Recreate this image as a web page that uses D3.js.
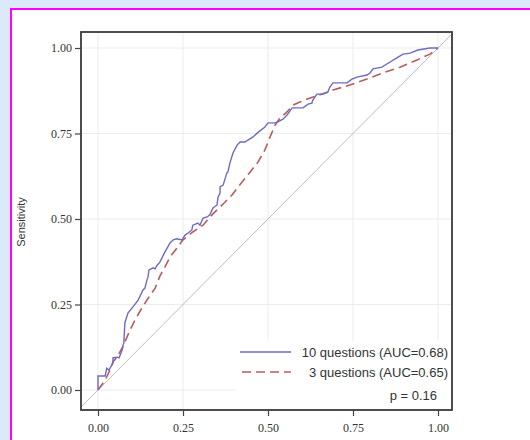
<!DOCTYPE html>
<html>
  <head>
    <meta charset="utf-8">
    <title>ROC curves</title>
    <script src="https://cdn.jsdelivr.net/npm/d3@7"></script>
    <style>
      body { margin: 0; background: #dbe9fb; }
    </style>
  </head>
  <body>
  </body>
  <script>

    // ROC points as [1 - specificity, sensitivity]
    var roc10 = [[0,0],[0,0.041],[0.021,0.041],[0.026,0.064],[0.032,0.058],[0.044,0.079],[0.044,0.094],
      [0.056,0.096],[0.062,0.094],[0.071,0.117],[0.074,0.132],[0.076,0.137],[0.079,0.196],[0.088,0.225],
      [0.103,0.243],[0.118,0.263],[0.132,0.292],[0.138,0.298],[0.144,0.322],[0.147,0.330],[0.150,0.351],
      [0.162,0.357],[0.168,0.354],[0.174,0.365],[0.182,0.374],[0.197,0.404],[0.212,0.430],[0.221,0.439],
      [0.232,0.442],[0.247,0.439],[0.256,0.453],[0.265,0.459],[0.276,0.468],[0.279,0.482],[0.294,0.488],
      [0.300,0.482],[0.309,0.503],[0.321,0.506],[0.329,0.512],[0.338,0.532],[0.350,0.541],[0.353,0.564],
      [0.359,0.576],[0.359,0.594],[0.368,0.599],[0.379,0.635],[0.382,0.637],[0.388,0.664],[0.397,0.693],
      [0.409,0.716],[0.418,0.725],[0.432,0.725],[0.456,0.740],[0.468,0.751],[0.491,0.769],[0.500,0.781],
      [0.521,0.781],[0.529,0.784],[0.544,0.792],[0.556,0.804],[0.571,0.825],[0.603,0.825],[0.618,0.836],
      [0.629,0.839],[0.632,0.848],[0.644,0.865],[0.662,0.865],[0.676,0.871],[0.682,0.886],[0.691,0.898],
      [0.732,0.898],[0.747,0.909],[0.762,0.915],[0.791,0.921],[0.800,0.927],[0.809,0.939],[0.835,0.944],
      [0.859,0.959],[0.879,0.971],[0.897,0.982],[0.918,0.985],[0.941,0.994],[0.976,1],[1,1]];

    var roc3 = [[0,0],[0.021,0.029],[0.035,0.058],[0.044,0.082],[0.056,0.096],[0.071,0.123],[0.079,0.140],
      [0.094,0.175],[0.109,0.205],[0.124,0.231],[0.144,0.263],[0.168,0.298],[0.182,0.333],[0.197,0.360],
      [0.212,0.389],[0.232,0.415],[0.250,0.439],[0.279,0.462],[0.309,0.482],[0.338,0.515],[0.368,0.544],
      [0.394,0.570],[0.426,0.611],[0.447,0.637],[0.471,0.667],[0.491,0.702],[0.506,0.740],[0.521,0.775],
      [0.535,0.795],[0.556,0.813],[0.574,0.833],[0.594,0.842],[0.624,0.854],[0.653,0.863],[0.691,0.877],
      [0.741,0.892],[0.791,0.909],[0.838,0.927],[0.888,0.944],[0.938,0.965],[0.976,0.982],[1,1]];

    var tickValues = [0, 0.25, 0.5, 0.75, 1];
    var legendLabels = ["10 questions (AUC=0.68)", "3 questions (AUC=0.65)"];
    var pLabel = "p = 0.16";

    var width = 530, height = 440;

    var svg = d3.select("body").append("svg")
                .attr("width", width)
                .attr("height", height);

    // white panel with magenta border
    svg.append("rect")
       .attr("x", 11).attr("y", 9)
       .attr("width", 560).attr("height", 480)
       .style("fill", "#fff")
       .style("stroke", "#ff00ff")
       .style("stroke-width", 2);

    // frame 81..452 x 32..410 ; 0 -> 98, 1 -> 438
    var x = d3.scaleLinear().domain([0, 1]).range([98, 438]);
    var y = d3.scaleLinear().domain([0, 1]).range([390, 48]);
    var fLeft = 81, fRight = 452, fTop = 32, fBottom = 410;

    svg.append("clipPath").attr("id", "clip")
       .append("rect")
       .attr("x", fLeft).attr("y", fTop)
       .attr("width", fRight - fLeft).attr("height", fBottom - fTop);

    // grid
    var grid = svg.append("g").style("stroke", "#ececec").style("stroke-width", 1);
    grid.selectAll(".gx").data(tickValues).enter().append("line")
        .attr("x1", function (d) { return x(d); }).attr("x2", function (d) { return x(d); })
        .attr("y1", fTop).attr("y2", fBottom);
    grid.selectAll(".gy").data(tickValues).enter().append("line")
        .attr("y1", function (d) { return y(d); }).attr("y2", function (d) { return y(d); })
        .attr("x1", fLeft).attr("x2", fRight);

    var plot = svg.append("g").attr("clip-path", "url(#clip)");

    // reference diagonal
    plot.append("line")
        .attr("x1", x(-0.1)).attr("y1", y(-0.1))
        .attr("x2", x(1.1)).attr("y2", y(1.1))
        .style("stroke", "#bcbcbc")
        .style("stroke-width", 1);

    // legend background covers grid
    svg.append("rect")
       .attr("x", 236).attr("y", 341)
       .attr("width", fRight - 236).attr("height", fBottom - 341)
       .style("fill", "#fff");

    var line = d3.line()
                 .x(function (d) { return x(d[0]); })
                 .y(function (d) { return y(d[1]); });

    plot.append("path")
        .datum(roc3)
        .attr("d", line)
        .style("fill", "none")
        .style("stroke", "#b85c5c")
        .style("stroke-width", 1.6)
        .style("stroke-dasharray", "9,5");

    plot.append("path")
        .datum(roc10)
        .attr("d", line)
        .style("fill", "none")
        .style("stroke", "#6b6bc4")
        .style("stroke-width", 1.4);

    // frame
    svg.append("rect")
       .attr("x", fLeft).attr("y", fTop)
       .attr("width", fRight - fLeft).attr("height", fBottom - fTop)
       .style("fill", "none")
       .style("stroke", "#3a3a3a")
       .style("stroke-width", 1.8);

    // axes
    var xAxis = d3.axisBottom(x).tickValues(tickValues).tickFormat(d3.format(".2f")).tickSize(6).tickSizeOuter(0);
    var yAxis = d3.axisLeft(y).tickValues(tickValues).tickFormat(d3.format(".2f")).tickSize(6).tickSizeOuter(0);

    var gx = svg.append("g").attr("transform", "translate(0," + fBottom + ")").call(xAxis);
    var gy = svg.append("g").attr("transform", "translate(" + fLeft + ",0)").call(yAxis);

    [gx, gy].forEach(function (g) {
      g.select(".domain").remove();
      g.selectAll(".tick line").style("stroke", "#444").style("stroke-width", 1.2);
      g.selectAll(".tick text")
       .style("font-family", "'Liberation Serif', 'DejaVu Serif', serif")
       .style("font-size", "12px")
       .style("fill", "#333");
    });
    gx.selectAll(".tick text").attr("dy", "1.1em");

    svg.append("text")
       .attr("transform", "translate(25,222) rotate(-90)")
       .attr("text-anchor", "middle")
       .style("font-family", "'Liberation Sans', Arial, sans-serif")
       .style("font-size", "11px")
       .style("fill", "#333")
       .text("Sensitivity");

    // legend
    var leg = svg.append("g");
    leg.append("line")
       .attr("x1", 240).attr("x2", 291).attr("y1", 352).attr("y2", 352)
       .style("stroke", "#6b6bc4").style("stroke-width", 1.4);
    leg.append("line")
       .attr("x1", 242).attr("x2", 291).attr("y1", 372).attr("y2", 372)
       .style("stroke", "#b85c5c").style("stroke-width", 1.6)
       .style("stroke-dasharray", "9,5");

    leg.selectAll("text.lab").data(legendLabels).enter().append("text")
       .attr("x", 448)
       .attr("y", function (d, i) { return 357 + i * 20; })
       .attr("text-anchor", "end")
       .style("font-family", "'Liberation Sans', Arial, sans-serif")
       .style("font-size", "13px")
       .style("fill", "#333")
       .text(function (d) { return d; });

    leg.append("text")
       .attr("x", 437).attr("y", 400)
       .attr("text-anchor", "end")
       .style("font-family", "'Liberation Sans', Arial, sans-serif")
       .style("font-size", "13px")
       .style("fill", "#333")
       .text(pLabel);

  </script>
</html>
